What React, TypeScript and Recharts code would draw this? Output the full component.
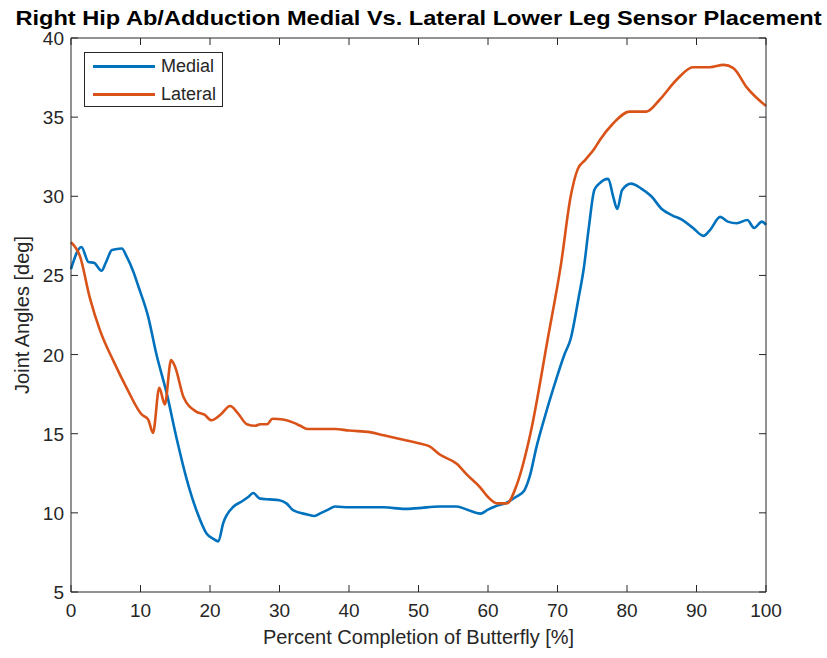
import { Label, Legend, Line, LineChart, XAxis, YAxis } from 'recharts'

const INK = '#262626'
const FONT = '"Liberation Sans", Arial, sans-serif'

const chartTitle = 'Right Hip Ab/Adduction Medial Vs. Lateral Lower Leg Sensor Placement'
const xLabel = 'Percent Completion of Butterfly [%]'
const yLabel = 'Joint Angles [deg]'

const xTicks = [0, 10, 20, 30, 40, 50, 60, 70, 80, 90, 100]
const yTicks = [5, 10, 15, 20, 25, 30, 35, 40]

const medialPct = [
  0, 1.5, 2.5, 3.3, 4.4, 5, 5.9, 7.3, 8, 9, 9.7, 11.1, 12.3, 13.8, 15.2, 16.6, 18.1, 19.5, 20.5,
  21.2, 21.9, 23.4, 24.5, 25.5, 26.2, 27.2, 28.5, 30, 31, 32, 34, 35, 36, 37, 38, 40, 45, 48, 50,
  53, 55.5, 57, 58.9, 60, 61, 62.7, 64, 65.2, 66, 67, 68, 69.5, 71, 71.9, 73, 73.8, 74.5, 75.3, 76,
  77.3, 78, 78.6, 79.3, 80.6, 82, 83.5, 85, 86.5, 88, 89.5, 91, 92, 93.4, 94.5, 95.8, 97.3, 98.3,
  99.4, 100,
]
const medialDeg = [
  25.4, 26.8, 25.85, 25.8, 25.3, 25.8, 26.6, 26.7, 26.2, 25.2, 24.3, 22.4, 20, 17.5, 14.7, 12.2,
  10.1, 8.7, 8.35, 8.2, 9.35, 10.4, 10.7, 11, 11.25, 10.9, 10.85, 10.8, 10.6, 10.15, 9.9, 9.8, 10,
  10.2, 10.4, 10.35, 10.35, 10.25, 10.3, 10.4, 10.4, 10.2, 9.95, 10.2, 10.4, 10.65, 11, 11.4, 12.3,
  14.2, 15.8, 18, 20, 21, 23.5, 25.5, 28, 30.4, 30.8, 31.1, 30, 29.2, 30.4, 30.8, 30.5, 30, 29.2,
  28.8, 28.5, 28, 27.5, 27.9, 28.7, 28.4, 28.3, 28.5, 28, 28.4, 28.2,
]

const lateralPct = [
  0, 1.3, 2.7, 4.2, 6.1, 8, 10.2, 11.1, 11.8, 12.7, 13.5, 14.4, 15, 16.2, 18, 19.2, 20.2, 21.5,
  22.9, 24, 25.3, 26.5, 27.2, 28.2, 29, 30.5, 32, 33, 34, 36, 38, 40, 43, 45, 48, 50, 51.6, 53,
  55.5, 57, 58.9, 60, 61.3, 62.7, 64.2, 66.1, 68.6, 70.5, 71.9, 72.9, 74, 75.3, 76.1, 78, 80.4,
  82.8, 84.7, 87.1, 89.5, 91.9, 93.9, 95.3, 97.2, 100,
]
const lateralDeg = [
  27.1, 26.2, 23.6, 21.5, 19.6, 17.9, 16.2, 15.9, 15.05, 17.9, 16.85, 19.65, 19.2, 17.3, 16.4,
  16.2, 15.85, 16.2, 16.75, 16.3, 15.6, 15.5, 15.6, 15.6, 15.95, 15.9, 15.7, 15.5, 15.3, 15.3, 15.3,
  15.2, 15.1, 14.9, 14.6, 14.4, 14.2, 13.7, 13.1, 12.4, 11.6, 11, 10.6, 10.6, 11.85, 15, 21, 25.7,
  30, 31.7, 32.3, 33, 33.56, 34.6, 35.35, 35.35, 36.1, 37.35, 38.15, 38.15, 38.3, 38.1, 36.9, 35.7,
]

const seriesNames = ['Medial', 'Lateral']
const seriesColors = ['#0072BD', '#D95319']

function toPoints(pct: number[], deg: number[]) {
  return pct.map((x, i) => ({ pct: x, deg: deg[i] }))
}

const medialData = toPoints(medialPct, medialDeg)
const lateralData = toPoints(lateralPct, lateralDeg)

type TickProps = { x?: number; y?: number; payload?: { value: number } }

// ticks point inward, like a boxed matlab axes
function BottomTick({ x = 0, y = 0, payload }: TickProps) {
  return (
    <g>
      <line x1={x} y1={y} x2={x} y2={y - 7} stroke={INK} />
      <text x={x} y={y + 25} textAnchor="middle" fill={INK} fontSize={19} fontFamily={FONT}>
        {payload?.value}
      </text>
    </g>
  )
}

function LeftTick({ x = 0, y = 0, payload }: TickProps) {
  return (
    <g>
      <line x1={x} y1={y} x2={x + 7} y2={y} stroke={INK} />
      <text x={x - 7} y={y + 7} textAnchor="end" fill={INK} fontSize={19} fontFamily={FONT}>
        {payload?.value}
      </text>
    </g>
  )
}

function TopTick({ x = 0, y = 0 }: TickProps) {
  return <line x1={x} y1={y} x2={x} y2={y + 7} stroke={INK} />
}

function RightTick({ x = 0, y = 0 }: TickProps) {
  return <line x1={x} y1={y} x2={x - 7} y2={y} stroke={INK} />
}

function LegendBox() {
  return (
    <div
      style={{
        width: 137,
        height: 53,
        border: `1px solid ${INK}`,
        background: '#fff',
        fontFamily: FONT,
        fontSize: 18,
        color: INK,
      }}
    >
      {seriesNames.map((name, i) => (
        <div key={name} style={{ display: 'flex', alignItems: 'center', height: 26, marginTop: i === 0 ? 0 : 2 }}>
          <span
            style={{
              display: 'inline-block',
              width: 62,
              height: 3,
              marginLeft: 8,
              marginRight: 6,
              background: seriesColors[i],
            }}
          />
          {name}
        </div>
      ))}
    </div>
  )
}

export default function App() {
  return (
    <div style={{ position: 'absolute', left: 0, top: 0, width: 827, height: 658, background: '#fff' }}>
      <LineChart width={827} height={658} margin={{ top: 37, right: 60, bottom: 0, left: 0 }}>
        <XAxis
          dataKey="pct"
          type="number"
          domain={[0, 100]}
          ticks={xTicks}
          interval={0}
          height={66}
          tickSize={0}
          tickMargin={0}
          tickLine={false}
          axisLine={{ stroke: INK }}
          tick={<BottomTick />}
        >
          <Label
            content={({ viewBox }: any) => (
              <text
                x={viewBox.x + viewBox.width / 2}
                y={viewBox.y + 52}
                textAnchor="middle"
                fill={INK}
                fontSize={20}
                fontFamily={FONT}
              >
                {xLabel}
              </text>
            )}
          />
        </XAxis>
        <XAxis
          xAxisId="top"
          dataKey="pct"
          orientation="top"
          type="number"
          domain={[0, 100]}
          ticks={xTicks}
          interval={0}
          height={1}
          tickSize={0}
          tickMargin={0}
          tickLine={false}
          axisLine={{ stroke: INK }}
          tick={<TopTick />}
        >
          <Label
            content={({ viewBox }: any) => (
              <text
                x={viewBox.x + viewBox.width / 2}
                y={25}
                textAnchor="middle"
                fill="#000"
                fontSize={21}
                fontWeight="bold"
                fontFamily={FONT}
                textLength={806}
                lengthAdjust="spacingAndGlyphs"
              >
                {chartTitle}
              </text>
            )}
          />
        </XAxis>
        <YAxis
          type="number"
          domain={[5, 40]}
          ticks={yTicks}
          interval={0}
          width={71}
          tickSize={0}
          tickMargin={0}
          tickLine={false}
          axisLine={{ stroke: INK }}
          tick={<LeftTick />}
        >
          <Label
            content={({ viewBox }: any) => {
              const cx = 22
              const cy = viewBox.y + viewBox.height / 2
              return (
                <text
                  x={cx}
                  y={cy}
                  transform={`rotate(-90 ${cx} ${cy})`}
                  textAnchor="middle"
                  dominantBaseline="central"
                  fill={INK}
                  fontSize={20}
                  fontFamily={FONT}
                >
                  {yLabel}
                </text>
              )
            }}
          />
        </YAxis>
        <YAxis
          yAxisId="right"
          orientation="right"
          type="number"
          domain={[5, 40]}
          ticks={yTicks}
          interval={0}
          width={1}
          tickSize={0}
          tickMargin={0}
          tickLine={false}
          axisLine={{ stroke: INK }}
          tick={<RightTick />}
        />
        <Legend
          layout="vertical"
          align="center"
          verticalAlign="middle"
          content={() => <LegendBox />}
          wrapperStyle={{ position: 'absolute', left: 84, top: 52, width: 'auto', height: 'auto' }}
        />
        <Line
          data={medialData}
          dataKey="deg"
          name={seriesNames[0]}
          type="monotone"
          stroke={seriesColors[0]}
          strokeWidth={2.6}
          dot={false}
          isAnimationActive={false}
        />
        <Line
          data={lateralData}
          dataKey="deg"
          name={seriesNames[1]}
          xAxisId="top"
          yAxisId="right"
          type="monotone"
          stroke={seriesColors[1]}
          strokeWidth={2.6}
          dot={false}
          isAnimationActive={false}
        />
      </LineChart>
    </div>
  )
}
